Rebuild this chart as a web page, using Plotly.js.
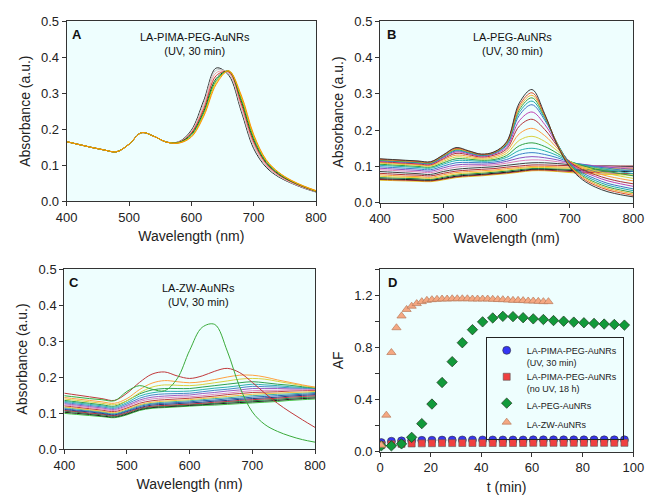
<!DOCTYPE html>
<html><head><meta charset="utf-8">
<script src="https://cdn.plot.ly/plotly-3.0.1.min.js"></script>
<style>html,body{margin:0;padding:0;background:#fff}#chart{width:646px;height:499px}</style>
</head><body><div id="chart"></div>
<script>
// ---- data ----
const wavelength = [400,420,440,460,480,500,520,540,560,580,600,620,640,660,680,700,720,740,760,780,800];

// Panel A: LA-PIMA-PEG-AuNRs (UV, 30 min)
const specA = [
 [.165,.157,.149,.142,.137,.158,.190,.180,.164,.165,.197,.280,.370,.350,.250,.146,.094,.067,.050,.036,.025],
 [.165,.157,.149,.142,.137,.158,.190,.180,.164,.164,.194,.272,.364,.354,.257,.152,.097,.069,.051,.037,.026],
 [.165,.157,.149,.142,.137,.158,.190,.180,.164,.164,.191,.264,.357,.357,.264,.158,.100,.071,.052,.038,.026],
 [.165,.157,.149,.142,.137,.158,.190,.180,.164,.163,.189,.257,.349,.359,.271,.164,.104,.073,.054,.039,.027],
 [.165,.157,.149,.142,.137,.158,.190,.180,.164,.163,.186,.250,.341,.361,.279,.170,.107,.075,.055,.040,.027],
 [.165,.157,.149,.142,.137,.158,.190,.180,.164,.162,.183,.245,.335,.362,.285,.176,.110,.077,.056,.041,.028],
 [.165,.157,.149,.142,.137,.158,.190,.180,.164,.162,.180,.240,.330,.362,.290,.181,.113,.079,.057,.041,.028],
 [.165,.157,.149,.142,.137,.158,.190,.180,.164,.161,.178,.236,.325,.362,.295,.185,.115,.080,.058,.042,.029]
];
const colorsA = ['#2a2a2a','#c4c4c4','#f2a0a0','#e03030','#105a10','#22a040','#e8d000','#ff8c00'];

// Panel B: LA-PEG-AuNRs (UV, 30 min)
const specB = [
 [.121,.119,.117,.115,.113,.132,.152,.143,.134,.140,.168,.275,.312,.245,.158,.097,.063,.043,.030,.022,.016],
 [.120,.118,.116,.114,.112,.131,.150,.142,.133,.139,.166,.268,.303,.242,.160,.100,.067,.048,.035,.027,.020],
 [.119,.117,.115,.113,.111,.130,.148,.141,.133,.139,.165,.262,.296,.240,.161,.102,.071,.052,.039,.031,.024],
 [.118,.116,.114,.112,.110,.129,.147,.140,.132,.138,.163,.256,.289,.237,.162,.104,.074,.056,.043,.035,.028],
 [.117,.115,.113,.111,.109,.128,.145,.139,.131,.137,.161,.249,.280,.233,.163,.106,.078,.061,.048,.040,.033],
 [.116,.114,.112,.110,.108,.126,.143,.137,.130,.136,.158,.241,.270,.228,.163,.108,.082,.066,.053,.045,.038],
 [.115,.113,.111,.109,.107,.124,.140,.135,.128,.134,.153,.226,.250,.216,.160,.110,.087,.072,.060,.052,.045],
 [.113,.111,.109,.107,.105,.121,.136,.132,.126,.131,.148,.211,.230,.202,.156,.112,.091,.077,.066,.058,.052],
 [.111,.109,.107,.105,.103,.118,.131,.128,.123,.127,.142,.190,.205,.185,.150,.113,.095,.083,.073,.066,.060],
 [.109,.107,.105,.103,.101,.114,.126,.124,.120,.123,.136,.172,.183,.169,.143,.114,.099,.088,.080,.073,.067],
 [.106,.104,.102,.100,.098,.110,.121,.120,.117,.119,.130,.157,.165,.155,.136,.114,.102,.093,.086,.080,.074],
 [.103,.101,.099,.097,.095,.106,.116,.116,.114,.116,.125,.144,.150,.143,.130,.113,.104,.097,.091,.085,.080],
 [.099,.097,.095,.093,.091,.101,.110,.111,.110,.112,.119,.133,.138,.133,.124,.112,.105,.099,.095,.090,.086],
 [.095,.093,.091,.089,.087,.096,.104,.106,.106,.108,.114,.123,.127,.124,.118,.110,.106,.101,.098,.095,.092],
 [.091,.089,.087,.085,.083,.091,.098,.101,.102,.104,.109,.115,.118,.117,.113,.108,.105,.102,.100,.098,.097],
 [.086,.084,.082,.080,.078,.086,.092,.095,.097,.099,.103,.107,.110,.110,.108,.105,.103,.102,.101,.100,.100],
 [.081,.079,.077,.076,.074,.081,.087,.090,.092,.094,.098,.101,.104,.104,.103,.102,.101,.101,.101,.101,.101],
 [.077,.075,.073,.072,.070,.077,.083,.086,.088,.090,.094,.097,.100,.100,.099,.098,.098,.098,.098,.098,.098],
 [.073,.071,.070,.069,.067,.073,.079,.082,.084,.087,.090,.094,.097,.097,.096,.095,.095,.094,.094,.094,.094],
 [.069,.068,.067,.066,.064,.070,.076,.079,.081,.084,.087,.091,.094,.094,.093,.092,.091,.091,.090,.090,.090],
 [.066,.065,.064,.063,.062,.067,.073,.076,.078,.081,.084,.088,.092,.092,.091,.089,.088,.087,.087,.086,.086],
 [.064,.063,.062,.061,.060,.065,.071,.074,.076,.079,.082,.086,.090,.090,.088,.086,.084,.083,.082,.081,.080],
 [.062,.061,.060,.059,.058,.063,.069,.072,.074,.077,.080,.084,.088,.088,.086,.083,.081,.079,.078,.077,.076]
];
const colorsB = ['#3a3a3a','#e0502a','#f0b030','#40a040','#20a8a8','#4070c0','#c040b0','#b03038','#ff9a3c',
 '#d8d040','#30a040','#28b0b0','#3a80c8','#9050c0','#e080b8','#404040','#b03038','#ff9a3c','#e0d030',
 '#208040','#1a1a1a','#b03038','#e8c020'];

// Panel C: LA-ZW-AuNRs (UV, 30 min)
const specC = [
 [.148,.144,.140,.137,.134,.160,.176,.166,.162,.195,.274,.338,.346,.272,.172,.103,.068,.049,.036,.026,.019],
 [.155,.150,.145,.140,.135,.155,.185,.208,.214,.203,.196,.203,.216,.224,.212,.185,.155,.127,.103,.081,.060],
 [.143,.139,.135,.131,.127,.140,.165,.183,.190,.187,.184,.187,.193,.200,.205,.205,.200,.192,.185,.178,.172],
 [.139,.135,.131,.127,.123,.134,.156,.172,.178,.177,.176,.179,.184,.189,.194,.196,.194,.188,.182,.176,.171],
 [.135,.131,.127,.123,.119,.134,.153,.164,.168,.168,.168,.172,.176,.180,.184,.187,.184,.180,.177,.173,.170],
 [.132,.128,.124,.120,.116,.129,.147,.156,.160,.160,.161,.165,.169,.172,.176,.180,.178,.176,.173,.171,.169],
 [.129,.125,.121,.117,.113,.125,.141,.150,.153,.154,.155,.159,.163,.166,.170,.174,.173,.172,.170,.169,.168],
 [.126,.122,.118,.114,.110,.121,.136,.144,.147,.149,.150,.154,.157,.161,.164,.168,.168,.168,.167,.167,.167],
 [.123,.119,.115,.111,.107,.118,.132,.139,.142,.144,.145,.148,.152,.155,.159,.162,.163,.163,.164,.164,.165],
 [.120,.116,.112,.108,.104,.114,.127,.134,.137,.139,.141,.144,.147,.151,.154,.157,.158,.159,.161,.162,.163],
 [.117,.113,.109,.105,.101,.111,.123,.130,.133,.135,.137,.140,.143,.146,.149,.152,.154,.155,.157,.158,.160],
 [.115,.111,.107,.103,.099,.108,.121,.127,.130,.132,.134,.137,.140,.142,.145,.148,.150,.152,.153,.155,.157],
 [.112,.108,.105,.101,.097,.106,.118,.125,.127,.129,.131,.134,.136,.139,.141,.144,.146,.148,.150,.152,.154],
 [.110,.106,.103,.099,.095,.104,.115,.122,.124,.126,.128,.130,.133,.135,.138,.140,.142,.144,.147,.149,.151],
 [.107,.104,.100,.097,.093,.101,.113,.119,.121,.123,.125,.127,.130,.132,.135,.137,.139,.141,.144,.146,.148],
 [.105,.102,.098,.095,.091,.099,.111,.117,.119,.121,.123,.125,.127,.130,.132,.134,.136,.138,.141,.143,.145],
 [.102,.099,.096,.092,.089,.097,.109,.115,.117,.119,.121,.123,.125,.127,.129,.131,.133,.135,.138,.140,.142],
 [.099,.096,.093,.090,.087,.095,.107,.113,.115,.117,.119,.121,.122,.124,.126,.128,.130,.132,.135,.137,.139]
];
const colorsC = ['#3aaa3a','#c0393b','#ffa040','#d8d040','#30a050','#30b0b0','#4a88c8','#a060c0','#e088c0',
 '#c04040','#f0c040','#40b0a0','#3060b0','#204080','#c03040','#208040','#202020','#40c040'];

// Panel D: AF vs time
const tStep4 = [0.5,4.5,8.5,12.5,16.5,20.5,24.5,28.5,32.5,36.5,40.5,44.5,48.5,52.5,56.5,60.5,64.5,68.5,72.5,76.5,80.5,84.5,88.5,92.5,96.5];
const afPimaUV = [0.07,0.08,0.083,0.086,0.087,0.088,0.089,0.089,0.09,0.09,0.09,0.09,0.09,0.09,0.09,0.091,0.091,0.091,0.091,0.091,0.091,0.091,0.091,0.091,0.091];
const afPimaNoUV = [0.052,0.057,0.06,0.063,0.064,0.065,0.066,0.066,0.067,0.067,0.067,0.067,0.067,0.067,0.067,0.068,0.068,0.068,0.068,0.068,0.068,0.068,0.068,0.068,0.068];
const afPEG = [0.045,0.045,0.06,0.11,0.215,0.365,0.53,0.69,0.835,0.935,0.995,1.025,1.037,1.035,1.027,1.018,1.013,1.005,1.0,0.993,0.988,0.983,0.978,0.975,0.97];
const tStep2 = [0.5,2.5,4.5,6.5,8.5,10.5,12.5,14.5,16.5,18.5,20.5,22.5,24.5,26.5,28.5,30.5,32.5,34.5,36.5,38.5,40.5,42.5,44.5,46.5,48.5,50.5,52.5,54.5,56.5,58.5,60.5,62.5,64.5,66.5];
const afZW = [0.05,0.28,0.76,0.95,1.04,1.09,1.115,1.135,1.15,1.16,1.165,1.168,1.17,1.17,1.172,1.172,1.172,1.172,1.17,1.17,1.17,1.17,1.168,1.166,1.165,1.163,1.16,1.16,1.158,1.155,1.155,1.152,1.15,1.15];
const legendNames = ['LA-PIMA-PEG-AuNRs<br>(UV, 30 min)','LA-PIMA-PEG-AuNRs<br>(no UV, 18 h)','LA-PEG-AuNRs','LA-ZW-AuNRs'];

// ---- traces ----
const FONT = 'Liberation Sans, Arial, Helvetica, sans-serif';
const traces = [];
function addSpectra(spec, colors, xa, ya, reverse) {
  const idx = spec.map((_, i) => i);
  if (reverse) idx.reverse();
  idx.forEach(i => {
    traces.push({type:'scatter', mode:'lines', x: wavelength, y: spec[i], xaxis: xa, yaxis: ya,
      line:{color: colors[i % colors.length], width:1, shape:'spline', smoothing:1},
      showlegend:false, hoverinfo:'skip'});
  });
}
addSpectra(specA, colorsA, 'x', 'y', false);
addSpectra(specB, colorsB, 'x2', 'y2', true);
addSpectra(specC, colorsC, 'x3', 'y3', true);

traces.push({type:'scatter', mode:'markers', x:tStep4, y:afPimaUV, xaxis:'x4', yaxis:'y4', name:legendNames[0],
  marker:{symbol:'circle', size:8, color:'#3535f5', line:{color:'#333', width:0.6}}});
traces.push({type:'scatter', mode:'markers', x:tStep4, y:afPimaNoUV, xaxis:'x4', yaxis:'y4', name:legendNames[1],
  marker:{symbol:'square', size:7, color:'#f04040', line:{color:'#555', width:0.6}}});
traces.push({type:'scatter', mode:'markers', x:tStep4, y:afPEG, xaxis:'x4', yaxis:'y4', name:legendNames[2],
  marker:{symbol:'diamond', size:8, color:'#119a3a', line:{color:'#1a331a', width:0.7}}});
traces.push({type:'scatter', mode:'markers', x:tStep2, y:afZW, xaxis:'x4', yaxis:'y4', name:legendNames[3],
  marker:{symbol:'triangle-up', size:8, color:'#f5a882', line:{color:'#b87a5a', width:0.7}}});

// ---- layout ----
const W = 646, H = 499;
const dx = (a,b) => [a/W, b/W];
const dy = (top,bottom) => [1-bottom/H, 1-top/H];
function xAxis(domain, anchor, range, dtick, title) {
  return {domain, anchor, range, dtick, tick0: range[0], ticks:'outside', ticklen:4, tickcolor:'#333', tickwidth:1,
    showline:true, mirror:true, linecolor:'#333', linewidth:1, showgrid:false, zeroline:false,
    tickfont:{size:13, color:'#222', family:FONT},
    title:{text:title, font:{size:14, color:'#222', family:FONT}, standoff:7}};
}
function yAxis(domain, anchor, range, dtick, title, fmt) {
  return {domain, anchor, range, dtick, tick0:0, tickformat:fmt, ticks:'outside', ticklen:4, tickcolor:'#333', tickwidth:1,
    showline:true, mirror:true, linecolor:'#333', linewidth:1, showgrid:false, zeroline:false,
    tickfont:{size:13, color:'#222', family:FONT},
    title:{text:title, font:{size:14, color:'#222', family:FONT}, standoff:7}};
}
const yD = yAxis(dy(269,451.7),'x4',[0,1.4],0.4,'AF','.1f');
yD.minor = {dtick:0.2, ticks:'outside', ticklen:4, tickcolor:'#333'};

function ann(text, px, py, size, bold) {
  return {text: bold ? '<b>'+text+'</b>' : text, x: px/W, y: 1-py/H, xref:'paper', yref:'paper',
    xanchor:'center', yanchor:'middle', showarrow:false, font:{size, color:'#111', family:FONT}};
}

const layout = {
  width:W, height:H, margin:{l:0,r:0,t:0,b:0}, paper_bgcolor:'#ffffff', plot_bgcolor:'#eefefe',
  font:{family:FONT, color:'#222'}, showlegend:true,
  xaxis: xAxis(dx(66.7,316),'y',[400,800],100,'Wavelength (nm)'),
  yaxis: yAxis(dy(21.3,201),'x',[0,0.5],0.1,'Absorbance (a.u.)','.1f'),
  xaxis2: xAxis(dx(380,633.3),'y2',[400,800],100,'Wavelength (nm)'),
  yaxis2: yAxis(dy(21.3,202.7),'x2',[0,0.5],0.1,'Absorbance (a.u.)','.1f'),
  xaxis3: xAxis(dx(64.3,315),'y3',[400,800],100,'Wavelength (nm)'),
  yaxis3: yAxis(dy(269,449),'x3',[0,0.5],0.1,'Absorbance (a.u.)','.1f'),
  xaxis4: xAxis(dx(380,633.3),'y4',[0,100],20,'t (min)'),
  yaxis4: yD,
  legend:{x:485.7/W, y:1-337/H, xanchor:'left', yanchor:'top', bordercolor:'#222', borderwidth:1,
    bgcolor:'rgba(0,0,0,0)', font:{size:9, color:'#222', family:FONT}, valign:'top', itemwidth:30, tracegroupgap:0},
  annotations:[
    ann('LA-PIMA-PEG-AuNRs<br>(UV, 30 min)',195,44,11,false),
    ann('LA-PEG-AuNRs<br>(UV, 30 min)',512.7,44,11,false),
    ann('LA-ZW-AuNRs<br>(UV, 30 min)',198,295,11,false),
    ann('A',77,35,13,true), ann('B',391.7,35,13,true), ann('C',74,282,13,true), ann('D',392.7,282,13,true)
  ]
};
Plotly.newPlot('chart', traces, layout, {displayModeBar:false, staticPlot:true});
</script></body></html>
